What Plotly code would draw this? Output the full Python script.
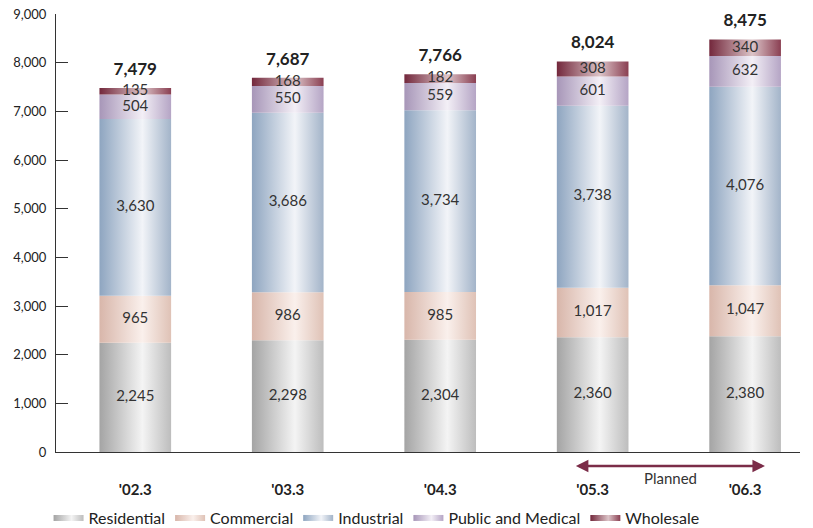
import plotly.graph_objects as go

categories = ["'02.3", "'03.3", "'04.3", "'05.3", "'06.3"]
series_names = ["Residential", "Commercial", "Industrial", "Public and Medical", "Wholesale"]
residential = [2245, 2298, 2304, 2360, 2380]
commercial = [965, 986, 985, 1017, 1047]
industrial = [3630, 3686, 3734, 3738, 4076]
public_medical = [504, 550, 559, 601, 632]
wholesale = [135, 168, 182, 308, 340]
totals = [7479, 7687, 7766, 8024, 8475]
y_ticks = [0, 1000, 2000, 3000, 4000, 5000, 6000, 7000, 8000, 9000]

series_values = [residential, commercial, industrial, public_medical, wholesale]
gradients = [
    ["#a4a4a4", "#f4f4f4", "#bdbdbd"],
    ["#d8b6aa", "#faf0ec", "#dfc2b6"],
    ["#8ea5c0", "#f2f4f8", "#a3b4c9"],
    ["#a796b8", "#f3eff6", "#b5a5c5"],
    ["#73283c", "#dcc4c8", "#8a3f52"],
]

FONT = "Lato, 'Open Sans', sans-serif"
bar_w = 0.47
xs = list(range(len(categories)))

fig = go.Figure()
bases = [0] * len(categories)
for s, (name, vals, g) in enumerate(zip(series_names, series_values, gradients)):
    for i, v in enumerate(vals):
        x0, x1 = xs[i] - bar_w / 2, xs[i] + bar_w / 2
        y0, y1 = bases[i], bases[i] + v
        fig.add_trace(go.Scatter(
            x=[x0, x1, x1, x0, x0], y=[y0, y0, y1, y1, y0],
            mode="none", fill="toself",
            fillgradient=dict(type="horizontal",
                              colorscale=[[0, g[0]], [0.6, g[1]], [1, g[2]]]),
            name=name, legendgroup=name, showlegend=(i == 0),
            hoverinfo="skip",
        ))
    mids = [bases[i] + vals[i] / 2 for i in range(len(vals))]
    fig.add_trace(go.Scatter(
        x=xs, y=mids, mode="text", text=[f"{v:,}" for v in vals],
        textfont=dict(family=FONT, size=15, color="#333333"),
        showlegend=False, hoverinfo="skip",
    ))
    bases = [bases[i] + vals[i] for i in range(len(vals))]

fig.add_trace(go.Scatter(
    x=xs, y=[t + 360 for t in totals], mode="text",
    text=[f"<b>{t:,}</b>" for t in totals],
    textfont=dict(family=FONT, size=17, color="#222222"),
    showlegend=False, hoverinfo="skip",
))

# Planned arrow
fig.add_annotation(x=4.13, y=-0.032, ax=2.88, ay=0, axref="x", ayref="pixel",
                   xref="x", yref="paper", text="", showarrow=True,
                   arrowhead=2, startarrowhead=2, arrowside="end+start",
                   arrowwidth=2.5, arrowsize=1, startarrowsize=1, arrowcolor="#7b2c48")
fig.add_annotation(x=3.51, y=-0.06, xref="x", yref="paper", yanchor="middle",
                   text="Planned", showarrow=False,
                   font=dict(family=FONT, size=15, color="#333333"))

# page has an 8px body margin, so the figure is sized to fit inside the window
fig.update_layout(
    width=805, height=520,
    margin=dict(l=48, r=13, t=6, b=76, autoexpand=False),
    plot_bgcolor="white", paper_bgcolor="white",
    font=dict(family=FONT, color="#222222"),
    showlegend=True,
    legend=dict(orientation="h", x=-0.01, y=-0.112, xanchor="left", yanchor="top",
                font=dict(family=FONT, size=16, color="#222222"),
                itemwidth=30, tracegroupgap=0),
    xaxis=dict(range=[-0.52, 4.36], tickvals=xs, ticktext=[f"<b>{c}</b>" for c in categories],
               tickfont=dict(family=FONT, size=15, color="#222222"),
               ticks="", showgrid=False, zeroline=False,
               showline=True, linecolor="#333333", linewidth=1,
               ticklabelstandoff=24, automargin=False, ticklabeloverflow="allow"),
    yaxis=dict(range=[0, 9000], tickvals=y_ticks, tickformat=",",
               tickfont=dict(family=FONT, size=13, color="#222222"),
               ticks="inside", ticklen=12, tickcolor="#333333",
               showgrid=False, zeroline=False,
               showline=True, linecolor="#333333", linewidth=1,
               ticklabelstandoff=6, automargin=False, ticklabeloverflow="allow"),
)

fig.write_html("out.html")
